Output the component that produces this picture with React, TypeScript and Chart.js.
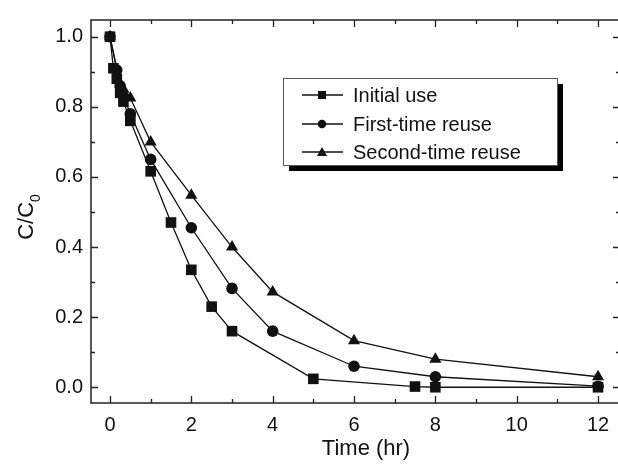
import React, { useEffect, useRef } from "react";
import { Chart, registerables } from "chart.js";

Chart.register(...registerables);

// ---- data ----
const initialTime = [0, 0.083, 0.167, 0.25, 0.33, 0.5, 1, 1.5, 2, 2.5, 3, 5, 7.5, 8, 12];
const initialValue = [1.0, 0.91, 0.88, 0.84, 0.815, 0.76, 0.616, 0.47, 0.335, 0.23, 0.16, 0.024, 0.002, 0.0, 0.0];

const firstReuseTime = [0, 0.167, 0.25, 0.33, 0.5, 1, 2, 3, 4, 6, 8, 12];
const firstReuseValue = [1.0, 0.905, 0.86, 0.83, 0.78, 0.65, 0.455, 0.282, 0.16, 0.06, 0.03, 0.003];

const secondReuseTime = [0, 0.25, 0.33, 0.5, 1, 2, 3, 4, 6, 8, 12];
const secondReuseValue = [1.0, 0.865, 0.85, 0.825, 0.7, 0.548, 0.4, 0.272, 0.133, 0.08, 0.03];

const seriesLabels = ["Initial use", "First-time reuse", "Second-time reuse"];
const seriesMarkers = ["rect", "circle", "triangle"];

const xTickValues = [0, 1, 2, 3, 4, 5, 6, 7, 8, 9, 10, 11, 12];
const xTickLabels = ["0", "", "2", "", "4", "", "6", "", "8", "", "10", "", "12"];
const yTickValues = [0, 0.1, 0.2, 0.3, 0.4, 0.5, 0.6, 0.7, 0.8, 0.9, 1.0];
const yTickLabels = ["0.0", "", "0.2", "", "0.4", "", "0.6", "", "0.8", "", "1.0"];

const xAxisTitle = "Time (hr)";
const yAxisTitleMain = "C/C";
const yAxisTitleSub = "0";

const FONT = "'Liberation Sans', Arial, sans-serif";
const INK = "#111";

const toPoints = (xs: number[], ys: number[]) => xs.map((x, i) => ({ x, y: ys[i] }));

const decorPlugin = {
  id: "decor",
  afterDraw(chart: any) {
    const { ctx, chartArea } = chart;
    const xs = chart.scales.x;
    const ys = chart.scales.y;
    const { left, right, top, bottom } = chartArea;
    ctx.save();
    // frame
    ctx.strokeStyle = "#222";
    ctx.lineWidth = 1.5;
    ctx.strokeRect(left, top, right - left, bottom - top);
    // ticks
    ctx.lineWidth = 1.3;
    ctx.beginPath();
    xTickValues.forEach((v, i) => {
      const px = Math.round(xs.getPixelForValue(v)) + 0.5;
      const len = xTickLabels[i] ? 7 : 4;
      ctx.moveTo(px, bottom);
      ctx.lineTo(px, bottom - len);
      ctx.moveTo(px, top);
      ctx.lineTo(px, top + len);
    });
    yTickValues.forEach((v, i) => {
      const py = Math.round(ys.getPixelForValue(v)) + 0.5;
      const len = yTickLabels[i] ? 7 : 4;
      ctx.moveTo(left, py);
      ctx.lineTo(left + len, py);
      ctx.moveTo(right, py);
      ctx.lineTo(right - len, py);
    });
    ctx.stroke();

    // axis titles
    ctx.fillStyle = INK;
    ctx.font = `22px ${FONT}`;
    ctx.textAlign = "center";
    ctx.textBaseline = "middle";
    ctx.fillText(xAxisTitle, 366, 449);

    ctx.save();
    ctx.translate(27, 217);
    ctx.rotate(-Math.PI / 2);
    ctx.font = `22px ${FONT}`;
    const mainW = ctx.measureText(yAxisTitleMain).width;
    ctx.font = `14px ${FONT}`;
    const subW = ctx.measureText(yAxisTitleSub).width;
    const startX = -(mainW + subW) / 2;
    ctx.textAlign = "left";
    ctx.textBaseline = "middle";
    ctx.font = `22px ${FONT}`;
    ctx.fillText(yAxisTitleMain, startX, 0);
    ctx.font = `14px ${FONT}`;
    ctx.fillText(yAxisTitleSub, startX + mainW, 9);
    ctx.restore();

    // legend
    const bx = 283, by = 78, bw = 274, bh = 87;
    ctx.fillStyle = "#000";
    ctx.fillRect(bx + 6, by + 6, bw, bh);
    ctx.fillStyle = "#fff";
    ctx.fillRect(bx, by, bw, bh);
    ctx.strokeStyle = "#555";
    ctx.lineWidth = 1;
    ctx.strokeRect(bx + 0.5, by + 0.5, bw, bh);
    const rows = [95, 124, 152];
    chart.data.datasets.forEach((ds: any, i: number) => {
      const y = rows[i];
      ctx.strokeStyle = INK;
      ctx.lineWidth = 1.3;
      ctx.beginPath();
      ctx.moveTo(302, y);
      ctx.lineTo(343, y);
      ctx.stroke();
      ctx.fillStyle = INK;
      const cx = 322;
      if (seriesMarkers[i] === "rect") {
        ctx.fillRect(cx - 4, y - 4, 8, 8);
      } else if (seriesMarkers[i] === "circle") {
        ctx.beginPath();
        ctx.arc(cx, y, 4.3, 0, Math.PI * 2);
        ctx.fill();
      } else {
        ctx.beginPath();
        ctx.moveTo(cx, y - 5);
        ctx.lineTo(cx + 5, y + 4);
        ctx.lineTo(cx - 5, y + 4);
        ctx.closePath();
        ctx.fill();
      }
      ctx.font = `20px ${FONT}`;
      ctx.textAlign = "left";
      ctx.textBaseline = "middle";
      ctx.fillText(ds.label, 353, y + 1);
    });
    ctx.restore();
  },
};

export default function App() {
  const ref = useRef<HTMLCanvasElement | null>(null);
  useEffect(() => {
    document.body.style.margin = "0";
    const canvas = ref.current;
    if (!canvas) return;
    const mk = (i: number, xs: number[], ys: number[], radius: number) => ({
      label: seriesLabels[i],
      data: toPoints(xs, ys),
      borderColor: INK,
      backgroundColor: INK,
      borderWidth: 1.3,
      pointStyle: seriesMarkers[i],
      pointRadius: radius,
      pointBorderWidth: 0,
      pointBackgroundColor: INK,
      tension: 0,
    });
    const chart = new Chart(canvas, {
      type: "line",
      data: {
        datasets: [
          mk(0, initialTime, initialValue, 7.5),
          mk(1, firstReuseTime, firstReuseValue, 5.8),
          mk(2, secondReuseTime, secondReuseValue, 7),
        ],
      },
      options: {
        animation: false,
        responsive: false,
        devicePixelRatio: 1,
        layout: { autoPadding: false, padding: { top: 14, right: 0, left: 0, bottom: 0 } },
        plugins: { legend: { display: false }, tooltip: { enabled: false }, title: { display: false } },
        scales: {
          x: {
            type: "linear",
            min: -0.467,
            max: 12.54,
            grid: { display: false, drawTicks: false },
            border: { display: false },
            afterBuildTicks: (s: any) => {
              s.ticks = xTickValues.map((v) => ({ value: v }));
            },
            afterFit: (s: any) => {
              s.height = 61;
            },
            ticks: {
              autoSkip: false,
              maxRotation: 0,
              padding: 10,
              color: INK,
              font: { family: FONT, size: 20 },
              callback: (_v: any, i: number) => xTickLabels[i],
            },
          },
          y: {
            type: "linear",
            min: -0.0449,
            max: 1.0477,
            grid: { display: false, drawTicks: false },
            border: { display: false },
            afterBuildTicks: (s: any) => {
              s.ticks = yTickValues.map((v) => ({ value: v }));
            },
            afterFit: (s: any) => {
              s.width = 91;
            },
            ticks: {
              autoSkip: false,
              padding: 8,
              color: INK,
              font: { family: FONT, size: 20 },
              callback: (_v: any, i: number) => yTickLabels[i],
            },
          },
        },
      },
      plugins: [decorPlugin],
    } as any);
    return () => chart.destroy();
  }, []);
  return (
    <div style={{ width: 618, height: 464, overflow: "hidden", background: "#fff" }}>
      <canvas ref={ref} width={620} height={464} style={{ display: "block" }} />
    </div>
  );
}
